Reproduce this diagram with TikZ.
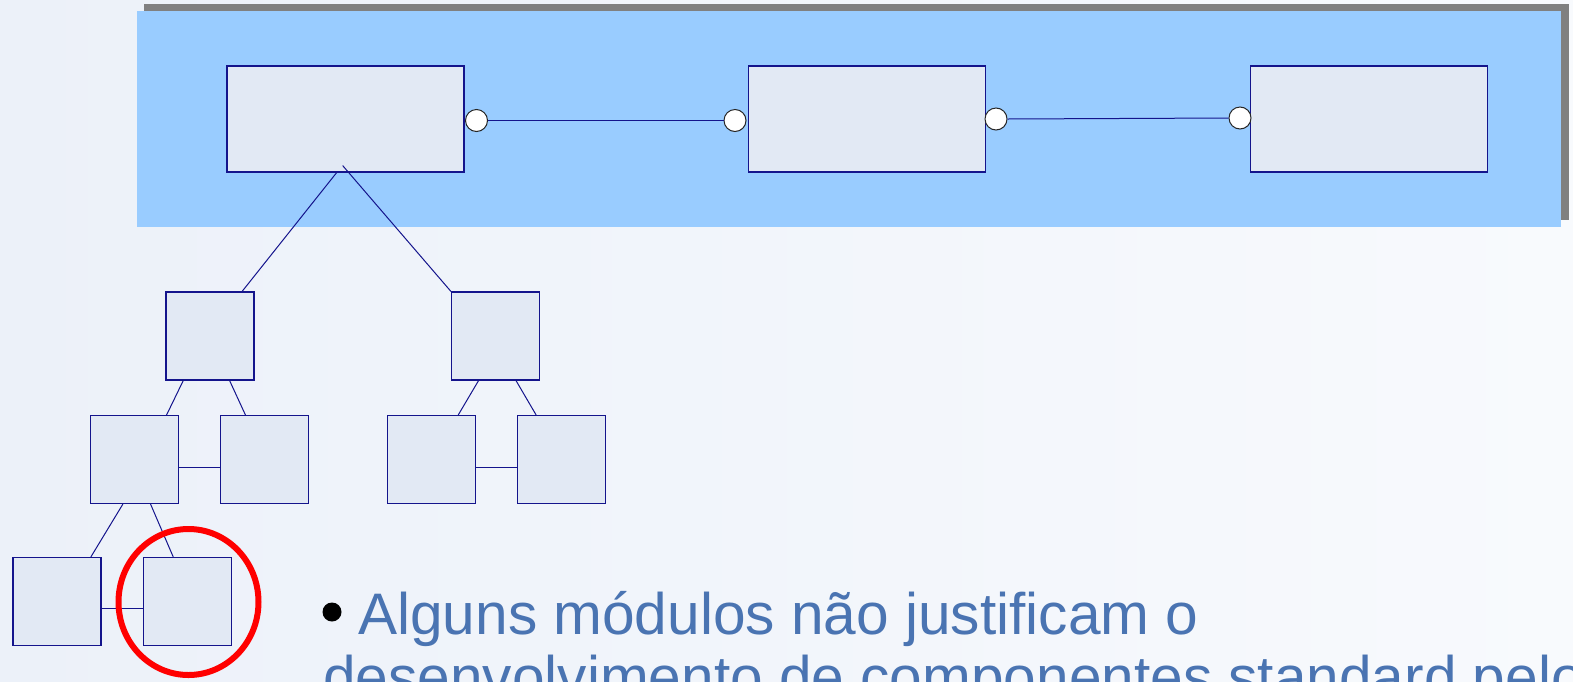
\documentclass[tikz,border=0pt]{standalone}
\usepackage{fontspec}
\setmainfont{Liberation Sans}
\usetikzlibrary{calc}
\definecolor{bgL}{RGB}{236,241,249}
\definecolor{bgR}{RGB}{248,250,253}
\definecolor{panel}{RGB}{153,204,255}
\definecolor{shadowgray}{RGB}{128,128,128}
\definecolor{boxfill}{RGB}{226,233,244}
\definecolor{navy}{RGB}{20,20,140}
\definecolor{txtblue}{RGB}{74,116,178}
\begin{document}
\begin{tikzpicture}[x=1pt,y=-1pt,
 module/.style={draw=navy, fill=boxfill, line width=1.1pt, minimum width=237pt, minimum height=106pt, inner sep=0pt},
 small/.style={draw=navy, fill=boxfill, line width=1.1pt, minimum width=88pt, minimum height=88pt, inner sep=0pt},
 port/.style={circle, draw=black!85, fill=white, line width=1pt, minimum size=22pt, inner sep=0pt},
 link/.style={draw=navy, line width=1pt},
 hl/.style={draw=red, line width=6pt},
 dotmark/.style={circle, fill=black, minimum size=19pt, inner sep=0pt},
 bodytext/.style={text=txtblue, font=\fontsize{58.6}{63}\selectfont, inner sep=0pt, anchor=base west}]

\useasboundingbox (0,0) rectangle (1573,681);
\shade[left color=bgL, right color=bgR] (0,0) rectangle (1573,681);
\fill[shadowgray] (144,4) rectangle (1569,220);
\fill[panel] (137,11) rectangle (1561,227);

% top modules
\node[module] (m1) at (345.5,119) {};
\node[module] (m2) at (867,119) {};
\node[module] (m3) at (1369,119) {};
\node[port] (p1) at (476.5,120.5) {};
\node[port] (p2) at (735,120.5) {};
\node[port] (p3) at (996,119) {};
\node[port] (p4) at (1240,118) {};
\draw[link] (p1.east) -- (p2.west);
\draw[link] (p3.east) -- (p4.west);

% tree boxes
\node[small] (A) at (210,336) {};
\node[small] (B) at (495.5,336) {};
\node[small] (C) at (134.5,459.5) {};
\node[small] (D) at (264.5,459.5) {};
\node[small] (E) at (431.5,459.5) {};
\node[small] (F) at (561.5,459.5) {};
\node[small] (G) at (57,601.5) {};
\node[small] (H) at (187.5,601.5) {};

% tree connectors
\draw[link] ($(m1.south west)!0.463!(m1.south east)$) -- ($(A.north west)!0.86!(A.north east)$);
\draw[link] ([yshift=7pt]$(m1.south west)!0.488!(m1.south east)$) -- (B.north west);
\draw[link] ($(A.south west)!0.2!(A.south east)$) -- ($(C.north west)!0.86!(C.north east)$);
\draw[link] ($(A.south west)!0.72!(A.south east)$) -- ($(D.north west)!0.286!(D.north east)$);
\draw[link] ($(B.south west)!0.31!(B.south east)$) -- ($(E.north west)!0.8!(E.north east)$);
\draw[link] ($(B.south west)!0.73!(B.south east)$) -- ($(F.north west)!0.215!(F.north east)$);
\draw[link] ($(C.south west)!0.37!(C.south east)$) -- ($(G.north west)!0.88!(G.north east)$);
\draw[link] ($(C.south west)!0.68!(C.south east)$) -- ($(H.north west)!0.34!(H.north east)$);
\draw[link] ([yshift=-7.5pt]C.east) -- ([yshift=-7.5pt]D.west);
\draw[link] ([yshift=-7.5pt]E.east) -- ([yshift=-7.5pt]F.west);
\draw[link] ([yshift=-6.5pt]G.east) -- ([yshift=-6.5pt]H.west);

% highlight
\draw[hl] (188.5,602) ellipse [x radius=70pt, y radius=73pt];

% text
\node[dotmark] (bullet) at (332,612) {};
\node[bodytext] (line1) at (358,634.3) {Alguns módulos não justificam o};
\node[bodytext] (line2) at (323,697) {desenvolvimento de componentes standard pelo};
\end{tikzpicture}
\end{document}
